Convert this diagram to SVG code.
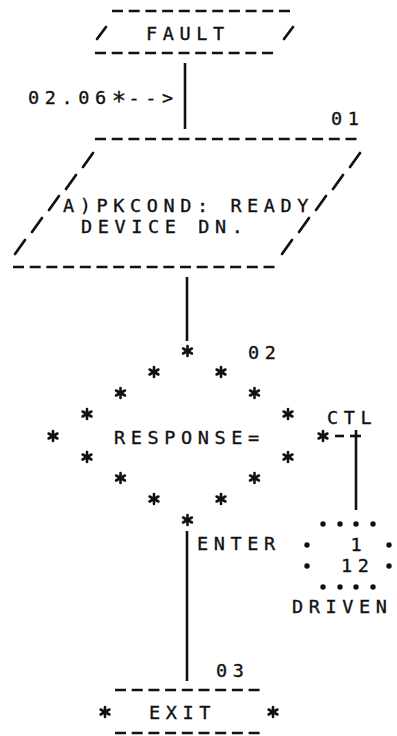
<svg xmlns="http://www.w3.org/2000/svg" width="397" height="736" viewBox="0 0 397 736">
<style>
.t{font-family:"DejaVu Sans Mono","Liberation Mono",monospace;font-size:18.5px;letter-spacing:5.6px;fill:#111;stroke:#111;stroke-width:0.35;}
.d{stroke:#111;stroke-width:2.3;stroke-dasharray:11 5.7;fill:none;}
.s{stroke:#111;stroke-width:2.7;stroke-linecap:round;fill:none;}
.c{stroke:#111;stroke-width:2.6;fill:none;}
.dot{fill:#111;}
</style>
<defs>
<symbol id="star" viewBox="-6 -6 12 12" width="12" height="12" overflow="visible">
<g stroke="#111" stroke-width="2.6" stroke-linecap="round">
<line x1="0" y1="-5" x2="0" y2="5"/>
<line x1="-4.4" y1="-2.5" x2="4.4" y2="2.5"/>
<line x1="-4.4" y1="2.5" x2="4.4" y2="-2.5"/>
</g>
</symbol>
</defs>
<rect width="397" height="736" fill="#fff"/>

<g id="fault">
<line class="d" x1="112" y1="11" x2="295" y2="11"/>
<line class="s" x1="97" y1="39" x2="106" y2="27"/>
<text class="t" x="146" y="40">FAULT</text>
<line class="s" x1="284" y1="39" x2="293" y2="27"/>
<line class="d" x1="95" y1="53" x2="278" y2="53"/>
</g>

<g id="xref">
<text class="t" x="28" y="104">02.06<tspan dy="5" font-size="24" letter-spacing="2.3">*</tspan><tspan dy="-5">--&gt;</tspan></text>
</g>

<g id="node01">
<text class="t" x="331" y="125">01</text>
<line class="d" x1="95" y1="139" x2="361" y2="139"/>
<line class="s" x1="83" y1="167" x2="93" y2="153"/>
<line class="s" x1="66" y1="189" x2="76" y2="175"/>
<line class="s" x1="49" y1="210" x2="59" y2="196"/>
<line class="s" x1="32" y1="232" x2="42" y2="218"/>
<line class="s" x1="15" y1="254" x2="25" y2="240"/>
<line class="s" x1="350" y1="167" x2="360" y2="153"/>
<line class="s" x1="333" y1="189" x2="343" y2="175"/>
<line class="s" x1="316" y1="210" x2="326" y2="196"/>
<line class="s" x1="299" y1="232" x2="309" y2="218"/>
<line class="s" x1="282" y1="254" x2="292" y2="240"/>
<text class="t" x="63" y="212">A)PKCOND: READY</text>
<text class="t" x="81" y="233">DEVICE DN.</text>
<line class="d" x1="13" y1="267" x2="278" y2="267"/>
</g>

<g id="node02">
<text class="t" x="248" y="359">02</text>
<use href="#star" x="181.5" y="345"/>
<use href="#star" x="148" y="366"/>
<use href="#star" x="215" y="366"/>
<use href="#star" x="114.5" y="387"/>
<use href="#star" x="248.5" y="387"/>
<use href="#star" x="81" y="408"/>
<use href="#star" x="282" y="408"/>
<use href="#star" x="47" y="430"/>
<use href="#star" x="317" y="430"/>
<use href="#star" x="81" y="451"/>
<use href="#star" x="282" y="451"/>
<use href="#star" x="114.5" y="472"/>
<use href="#star" x="248.5" y="472"/>
<use href="#star" x="148" y="493"/>
<use href="#star" x="215" y="493"/>
<use href="#star" x="181.5" y="514"/>
<text class="t" x="114" y="444">RESPONSE=</text>
</g>

<g id="node1">
<circle class="dot" cx="323" cy="524" r="2.7"/>
<circle class="dot" cx="340" cy="524" r="2.7"/>
<circle class="dot" cx="356" cy="524" r="2.7"/>
<circle class="dot" cx="373" cy="524" r="2.7"/>
<circle class="dot" cx="307" cy="545" r="2.7"/>
<circle class="dot" cx="389" cy="545" r="2.7"/>
<circle class="dot" cx="307" cy="566" r="2.7"/>
<circle class="dot" cx="389" cy="566" r="2.7"/>
<circle class="dot" cx="323" cy="587" r="2.7"/>
<circle class="dot" cx="340" cy="587" r="2.7"/>
<circle class="dot" cx="356" cy="587" r="2.7"/>
<circle class="dot" cx="373" cy="587" r="2.7"/>
<text class="t" x="350.5" y="551">1</text>
<text class="t" x="341" y="572">12</text>
<text class="t" x="292" y="613">DRIVEN</text>
</g>

<g id="node03">
<text class="t" x="216" y="677">03</text>
<line class="d" x1="115" y1="690" x2="263" y2="690"/>
<use href="#star" x="99" y="706"/>
<text class="t" x="149" y="719">EXIT</text>
<use href="#star" x="267" y="706"/>
<line class="d" x1="115" y1="733" x2="263" y2="733"/>
</g>

<g id="connectors">
<line class="c" x1="185" y1="63" x2="185" y2="129"/>
<line class="c" x1="187" y1="277" x2="187" y2="341"/>
<line class="c" x1="335" y1="436" x2="344" y2="436"/>
<line class="c" x1="350" y1="436" x2="361" y2="436"/>
<line class="c" x1="356" y1="430" x2="356" y2="510"/>
<line class="c" x1="187" y1="531" x2="187" y2="681"/>
<text class="t" x="327" y="424">CTL</text>
<text class="t" x="197" y="550">ENTER</text>
</g>
</svg>
